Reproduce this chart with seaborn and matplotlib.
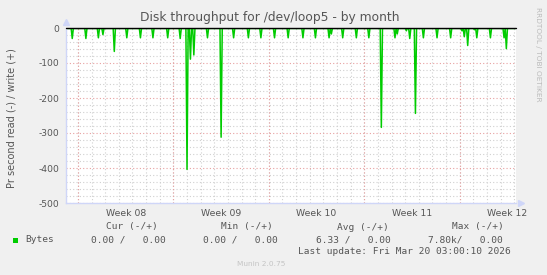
import numpy as np
import pandas as pd
import matplotlib
matplotlib.use("Agg")
import matplotlib.pyplot as plt
import matplotlib.dates as mdates
from matplotlib.patches import Rectangle
import seaborn as sns

# ---------------- data ----------------
title = "Disk throughput for /dev/loop5 - by month"
y_label = "Pr second read (-) / write (+)"
start_time = "2026-02-15 03:00:10"
end_time = "2026-03-20 03:00:10"

# 2-hour averaged read rate (negative = read); zero except at these points
spike_times = [
    "2026-02-15 14:00", "2026-02-16 14:00", "2026-02-17 12:00", "2026-02-17 20:00",
    "2026-02-18 16:00", "2026-02-19 14:00", "2026-02-20 14:00", "2026-02-21 12:00",
    "2026-02-22 14:00", "2026-02-23 12:00", "2026-02-24 00:00", "2026-02-24 06:00",
    "2026-02-24 12:00", "2026-02-25 12:00", "2026-02-26 12:00", "2026-02-27 10:00",
    "2026-02-28 12:00", "2026-03-01 10:00", "2026-03-02 10:00", "2026-03-03 10:00",
    "2026-03-04 12:00", "2026-03-05 10:00", "2026-03-06 10:00", "2026-03-06 14:00",
    "2026-03-07 10:00", "2026-03-08 10:00", "2026-03-09 08:00", "2026-03-10 06:00",
    "2026-03-11 06:00", "2026-03-11 10:00", "2026-03-12 02:00", "2026-03-12 08:00",
    "2026-03-12 18:00", "2026-03-13 08:00", "2026-03-14 08:00", "2026-03-15 08:00",
    "2026-03-16 04:00", "2026-03-16 08:00", "2026-03-16 14:00", "2026-03-17 02:00",
    "2026-03-17 06:00", "2026-03-18 06:00", "2026-03-19 06:00", "2026-03-19 10:00",
]
spike_values = [
    -30, -30, -28, -19,
    -67, -28, -28, -28,
    -28, -30, -404, -89,
    -77, -28, -312, -28,
    -28, -28, -28, -28,
    -28, -28, -28, -17,
    -28, -28, -28, -284,
    -28, -17, -8, -30,
    -244, -28, -28, -28,
    -8, -25, -50, -5,
    -28, -28, -28, -59,
]
write_values_const = 0.0

y_ticks = [0, -100, -200, -300, -400, -500]
week_labels = ["Week 08", "Week 09", "Week 10", "Week 11", "Week 12"]
week_label_times = ["2026-02-19 12:00", "2026-02-26 12:00", "2026-03-05 12:00",
                    "2026-03-12 12:00", "2026-03-19 12:00"]
week_start_times = ["2026-02-16", "2026-02-23", "2026-03-02", "2026-03-09", "2026-03-16"]

legend_headers = ["Cur (-/+)", "Min (-/+)", "Avg (-/+)", "Max (-/+)"]
legend_series = "Bytes"
legend_values = ["0.00 /   0.00", "0.00 /   0.00", "6.33 /   0.00", "7.80k/   0.00"]
last_update = "Last update: Fri Mar 20 03:00:10 2026"
munin_version = "Munin 2.0.75"

# ---------------- build frame ----------------
times = pd.date_range("2026-02-15 04:00", "2026-03-20 02:00", freq="2h")
read = pd.Series(0.0, index=times)
read.loc[pd.to_datetime(spike_times)] = spike_values
df = pd.DataFrame({"time": times, "read": read.values,
                   "write": np.full(len(times), write_values_const)})

# ---------------- style ----------------
sns.set_theme(style="white")
plt.rcParams["font.family"] = ["DejaVu Sans"]

W, H = 547, 275
fig = plt.figure(figsize=(W / 100, H / 100), dpi=100, facecolor="#F0F0F0")
ax = fig.add_axes([66 / W, 1 - 203 / H, 450 / W, 175 / H])
ax.set_facecolor("white")

FONT = "#555555"
MINOR = "#D0D0D0"
MAJOR = "#E8A0A0"
AXIS = "#CFD6F8"

sns.lineplot(data=df, x="time", y="write", color="#00CC00", lw=1, ax=ax, zorder=3)
sns.lineplot(data=df, x="time", y="read", color="#00CC00", lw=1.1, ax=ax, zorder=4)

t0, t1 = pd.Timestamp(start_time), pd.Timestamp(end_time)
ax.set_xlim(t0, t1)
ax.set_ylim(-500, 0)

# y grid
ax.set_yticks(y_ticks)
ax.set_yticks(np.arange(-500, 1, 20), minor=True)
ax.set_yticklabels([str(v) for v in y_ticks], color=FONT, fontsize=6.6)
ax.yaxis.grid(True, which="minor", color=MINOR, ls=(0, (1, 2)), lw=0.8)
ax.yaxis.grid(True, which="major", color=MAJOR, ls=(0, (1, 2)), lw=0.8)

# x grid: daily minor, weekly major (red), labels mid-week
ax.xaxis.set_minor_locator(mdates.DayLocator())
ax.xaxis.grid(True, which="minor", color=MINOR, ls=(0, (1, 2)), lw=0.8)
for ws in pd.to_datetime(week_start_times):
    ax.axvline(ws, color=MAJOR, ls=(0, (1, 2)), lw=0.8, zorder=1.5)
ax.set_xticks(pd.to_datetime(week_label_times))
ax.set_xticklabels(week_labels, color=FONT, fontsize=6.7)
ax.xaxis.grid(False, which="major")
ax.tick_params(axis="x", which="major", length=0, pad=4)
ax.tick_params(axis="x", which="minor", length=2, color=MINOR, width=0.8)
ax.tick_params(axis="y", which="major", length=2, color="#E08080", width=0.8, pad=3)
ax.tick_params(axis="y", which="minor", length=2, color=MINOR, width=0.8)
ax.set_axisbelow(True)

ax.set_xlabel("")
ax.set_ylabel("")
for s in ["top", "right"]:
    ax.spines[s].set_visible(False)
for s in ["left", "bottom"]:
    ax.spines[s].set_color(AXIS)
    ax.spines[s].set_linewidth(1)

# zero rule
ax.axhline(0, color="black", lw=1, zorder=5, clip_on=False)

# arrows
ax.plot([0], [1.035], marker="^", ms=4, color=AXIS, transform=ax.transAxes, clip_on=False)
ax.plot([1.01], [0], marker=">", ms=4, color=AXIS, transform=ax.transAxes, clip_on=False)

# ---------------- texts ----------------
def px(x, y):
    return x / W, 1 - y / H

fig.text(*px(270, 17), title, ha="center", va="center", fontsize=8.8, color=FONT)
fig.text(*px(12, 118), y_label, ha="center", va="center", rotation=90,
         fontsize=7.0, color=FONT)
fig.text(*px(538, 54), "RRDTOOL / TOBI OETIKER", ha="center", va="center",
         rotation=270, fontsize=5.3, color="#BBBBBB")

mono = dict(family="DejaVu Sans Mono", fontsize=6.8, color=FONT, va="center")
header_x = [106, 221, 337, 452]
for hx, h in zip(header_x, legend_headers):
    fig.text(*px(hx, 227), h, ha="left", **mono)
fig.patches.append(Rectangle(px(13, 243), 5 / W, 5 / H, transform=fig.transFigure,
                             facecolor="#00CC00", edgecolor="none"))
fig.text(*px(25, 240), legend_series, ha="left", **mono)
value_x = [91, 203, 316, 428]
for vx, v in zip(value_x, legend_values):
    fig.text(*px(vx, 240), v, ha="left", **mono)
fig.text(*px(298, 252), last_update, ha="left", **mono)
fig.text(*px(261, 264), munin_version, ha="center", va="center", fontsize=5.3,
         color="#C4C4C4")

fig.savefig("out.png", dpi=100, facecolor=fig.get_facecolor())
